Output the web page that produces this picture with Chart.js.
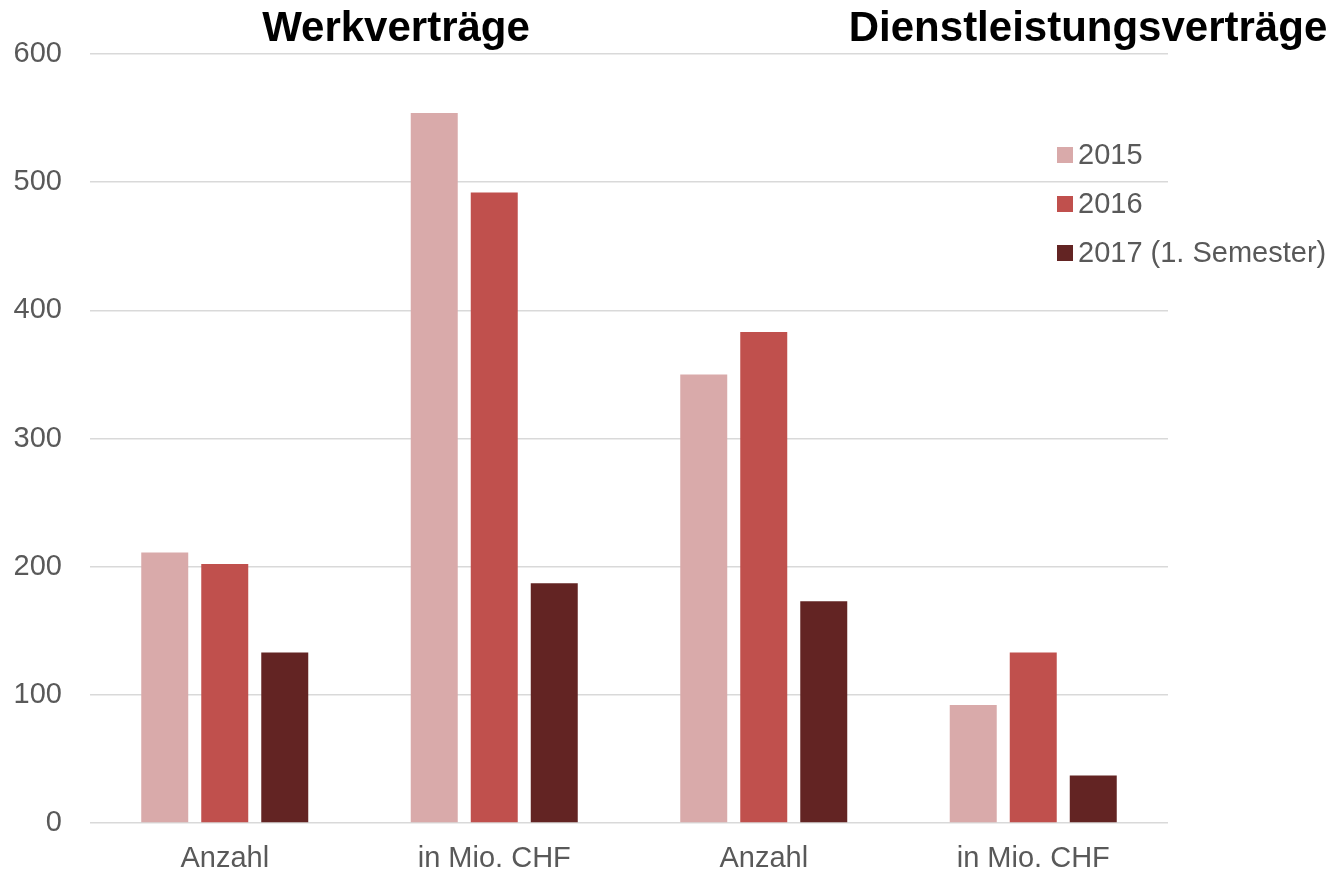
<!DOCTYPE html>
<html>
<head>
<meta charset="utf-8">
<script src="https://cdn.jsdelivr.net/npm/chart.js@4.4.1/dist/chart.umd.min.js"></script>
<style>
html,body{margin:0;padding:0;background:#fff;}
#wrap{width:1342px;height:873px;}
</style>
</head>
<body>
<div id="wrap"><canvas id="c" width="1342" height="873"></canvas></div>
<script>
const categories = ['Anzahl', 'in Mio. CHF', 'Anzahl', 'in Mio. CHF'];
const seriesLabels = ['2015', '2016', '2017 (1. Semester)'];
const values2015 = [211, 554, 350, 92];
const values2016 = [202, 492, 383, 133];
const values2017 = [133, 187, 173, 37];
const groupTitles = ['Werkverträge', 'Dienstleistungsverträge'];
const yTicks = [0, 100, 200, 300, 400, 500, 600];

const colors = ['#d9aaaa', '#c0504d', '#632423'];
const FONT = '"Liberation Sans", Arial, sans-serif';

const titlePlugin = {
  id: 'titles',
  afterDraw(chart) {
    const ctx = chart.ctx;
    ctx.save();
    ctx.fillStyle = '#000';
    ctx.font = 'bold 42px ' + FONT;
    ctx.textAlign = 'center';
    ctx.textBaseline = 'alphabetic';
    ctx.fillText(groupTitles[0], 396, 41);
    ctx.fillText(groupTitles[1], 1088, 41);
    // legend
    ctx.font = '29px ' + FONT;
    ctx.textAlign = 'left';
    ctx.textBaseline = 'middle';
    chart.data.datasets.forEach((ds, i) => {
      const cy = 155 + i * 49;
      ctx.fillStyle = ds.backgroundColor;
      ctx.fillRect(1057, cy - 8, 16, 16);
      ctx.fillStyle = '#595959';
      ctx.fillText(ds.label, 1078, cy + 1);
    });
    ctx.restore();
  }
};

new Chart(document.getElementById('c'), {
  type: 'bar',
  data: {
    labels: categories,
    datasets: [
      { label: seriesLabels[0], data: values2015, backgroundColor: colors[0] },
      { label: seriesLabels[1], data: values2016, backgroundColor: colors[1] },
      { label: seriesLabels[2], data: values2017, backgroundColor: colors[2] }
    ]
  },
  options: {
    responsive: false,
    animation: false,
    layout: { padding: { left: 14, right: 174, top: 54, bottom: 0 } },
    datasets: { bar: { categoryPercentage: 0.668, barPercentage: 0.783 } },
    plugins: { legend: { display: false }, tooltip: { enabled: false }, title: { display: false } },
    scales: {
      x: {
        afterFit(axis) { axis.height = 50; },
        grid: { display: false, drawTicks: false },
        border: { display: false },
        ticks: { color: '#595959', font: { family: FONT, size: 29, lineHeight: 1 }, padding: 21, maxRotation: 0 }
      },
      y: {
        min: 0, max: 600,
        afterFit(axis) { axis.width = 76; },
        afterBuildTicks(axis) { axis.ticks = yTicks.map(v => ({ value: v })); },
        grid: { color: '#d9d9d9', lineWidth: 1.5, drawTicks: false },
        border: { display: false },
        ticks: { color: '#595959', font: { family: FONT, size: 29, lineHeight: 1 }, padding: 28 }
      }
    }
  },
  plugins: [titlePlugin]
});
</script>
</body>
</html>
